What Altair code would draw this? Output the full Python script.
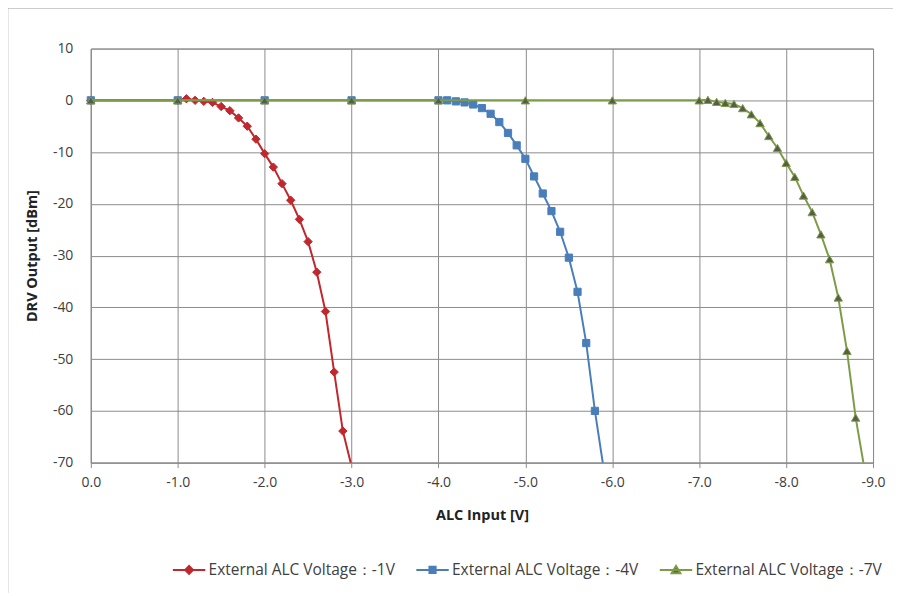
import altair as alt
import pandas as pd

# ---------------- data ----------------
S1 = "External ALC Voltage：-1V"
S2 = "External ALC Voltage：-4V"
S3 = "External ALC Voltage：-7V"

red_x = [0.0, -1.0, -1.1, -1.2, -1.3, -1.4, -1.5, -1.6, -1.7, -1.8, -1.9, -2.0,
         -2.1, -2.2, -2.3, -2.4, -2.5, -2.6, -2.7, -2.8, -2.9, -3.0]
red_y = [0.0, 0.0, 0.3, 0.0, -0.2, -0.4, -1.2, -2.0, -3.4, -5.0, -7.5, -10.3,
         -12.9, -16.1, -19.3, -23.0, -27.3, -33.2, -40.8, -52.5, -63.9, -70.7]

blue_x = [0.0, -1.0, -2.0, -3.0, -4.0, -4.1, -4.2, -4.3, -4.4, -4.5, -4.6, -4.7,
          -4.8, -4.9, -5.0, -5.1, -5.2, -5.3, -5.4, -5.5, -5.6, -5.7, -5.8, -5.9]
blue_y = [0.0, 0.0, 0.0, 0.0, 0.0, 0.0, -0.2, -0.4, -0.8, -1.5, -2.6, -4.2,
          -6.3, -8.7, -11.3, -14.7, -18.0, -21.4, -25.4, -30.4, -37.0, -46.9, -60.0, -71.1]

green_x = [0.0, -1.0, -2.0, -3.0, -4.0, -5.0, -6.0, -7.0, -7.1, -7.2, -7.3, -7.4,
           -7.5, -7.6, -7.7, -7.8, -7.9, -8.0, -8.1, -8.2, -8.3, -8.4, -8.5, -8.6,
           -8.7, -8.8, -8.9]
green_y = [0.0, 0.0, 0.0, 0.0, 0.0, 0.0, 0.0, 0.0, 0.1, -0.3, -0.5, -0.7,
           -1.5, -2.7, -4.4, -6.9, -9.2, -12.1, -14.8, -18.4, -21.6, -25.9, -30.7, -38.1,
           -48.4, -61.3, -71.1]

x_ticks = [0, -1, -2, -3, -4, -5, -6, -7, -8, -9]
y_ticks = [10, 0, -10, -20, -30, -40, -50, -60, -70]

series_names = [S1, S2, S3]
line_colors = ["#c0282e", "#4a7ebb", "#7d9c47"]
marker_fills = ["#c0282e", "#4a7ebb", "#585d49"]
marker_shapes = ["diamond", "square", "triangle-up"]
marker_sizes = [70, 52, 70]

# legend symbols: short line with the marker in its middle
legend_syms = [
    "M-1,0H1M0,-0.24L0.24,0L0,0.24L-0.24,0Z",
    "M-1,0H1M-0.19,-0.19H0.19V0.19H-0.19Z",
    "M-1,0H1M0,-0.25L0.27,0.2H-0.27Z",
]

FONT = "Open Sans"
GRID = "#8c8c8c"

frames = []
for name, xs, ys in [(S1, red_x, red_y), (S2, blue_x, blue_y), (S3, green_x, green_y)]:
    frames.append(pd.DataFrame({"series": name, "x": xs, "y": ys}))

x_enc = alt.X("x:Q", scale=alt.Scale(domain=[0, -9], nice=False),
              axis=alt.Axis(values=x_ticks, title="ALC Input [V]",
                            labelExpr="datum.value == 0 ? '0.0' : '-' + format(abs(datum.value), '.1f')",
                            labelFlush=False,
                            tickSize=5, tickColor=GRID, labelPadding=8, titlePadding=19,
                            grid=True, gridColor=GRID, domainColor=GRID))
y_enc = alt.Y("y:Q", scale=alt.Scale(domain=[-70, 10], nice=False),
              axis=alt.Axis(values=y_ticks, title="DRV Output [dBm]",
                            labelExpr="datum.value < 0 ? '-' + format(abs(datum.value), 'd') : format(datum.value, 'd')",
                            labelFlush=False,
                            ticks=False, labelPadding=18, titlePadding=13,
                            grid=True, gridColor=GRID, domainColor=GRID))

legend = alt.Legend(
    title=None, orient="none", direction="horizontal", legendX=81, legendY=505,
    symbolSize=1056, symbolStrokeWidth=2, labelFontSize=15.5, labelFont=FONT,
    labelColor="#404040", columnPadding=16, labelOffset=2, labelLimit=400,
)

layers = []
for i, df in enumerate(frames):
    base = alt.Chart(df)
    line = base.mark_line(strokeWidth=2, clip=True, color=line_colors[i]).encode(x=x_enc, y=y_enc)
    pts = base.transform_filter("datum.y >= -70").mark_point(
        shape=marker_shapes[i], size=marker_sizes[i], filled=True,
        fill=marker_fills[i], stroke=line_colors[i], strokeWidth=1, opacity=1,
    ).encode(x=x_enc, y=y_enc)
    layers += [line, pts]

# legend carrier: points placed far outside the y domain and clipped away
legend_df = pd.DataFrame({"series": series_names, "x": [0.0] * 3, "y": [1000.0] * 3})
legend_layer = alt.Chart(legend_df).mark_point(
    filled=True, clip=True, opacity=1, strokeWidth=2
).encode(
    x=x_enc, y=y_enc,
    fill=alt.Fill("series:N", scale=alt.Scale(domain=series_names, range=marker_fills), legend=legend),
    stroke=alt.Stroke("series:N", scale=alt.Scale(domain=series_names, range=line_colors), legend=legend),
    shape=alt.Shape("series:N", scale=alt.Scale(domain=series_names, range=legend_syms), legend=legend),
)

frame = alt.Chart(alt.Data(values=[{}])).mark_rect(
    fill="transparent", stroke="#9a9a9a", strokeWidth=1.5
).encode(x=alt.value(-83.5), x2=alt.value(1000), y=alt.value(-41), y2=alt.value(700))

chart = alt.layer(frame, *layers, legend_layer).properties(
    width=784, height=415,
    autosize=alt.AutoSizeParams(type="none"),
    padding={"left": 83, "top": 40, "right": 20, "bottom": 130},
).configure_axis(
    labelFont=FONT, labelFontSize=14, labelColor="#404040",
    titleFont=FONT, titleFontSize=14.5, titleFontWeight="bold", titleColor="#222222",
).configure_view(stroke=GRID)

chart.save("out.html", embed_options={"renderer": "svg", "actions": False})
